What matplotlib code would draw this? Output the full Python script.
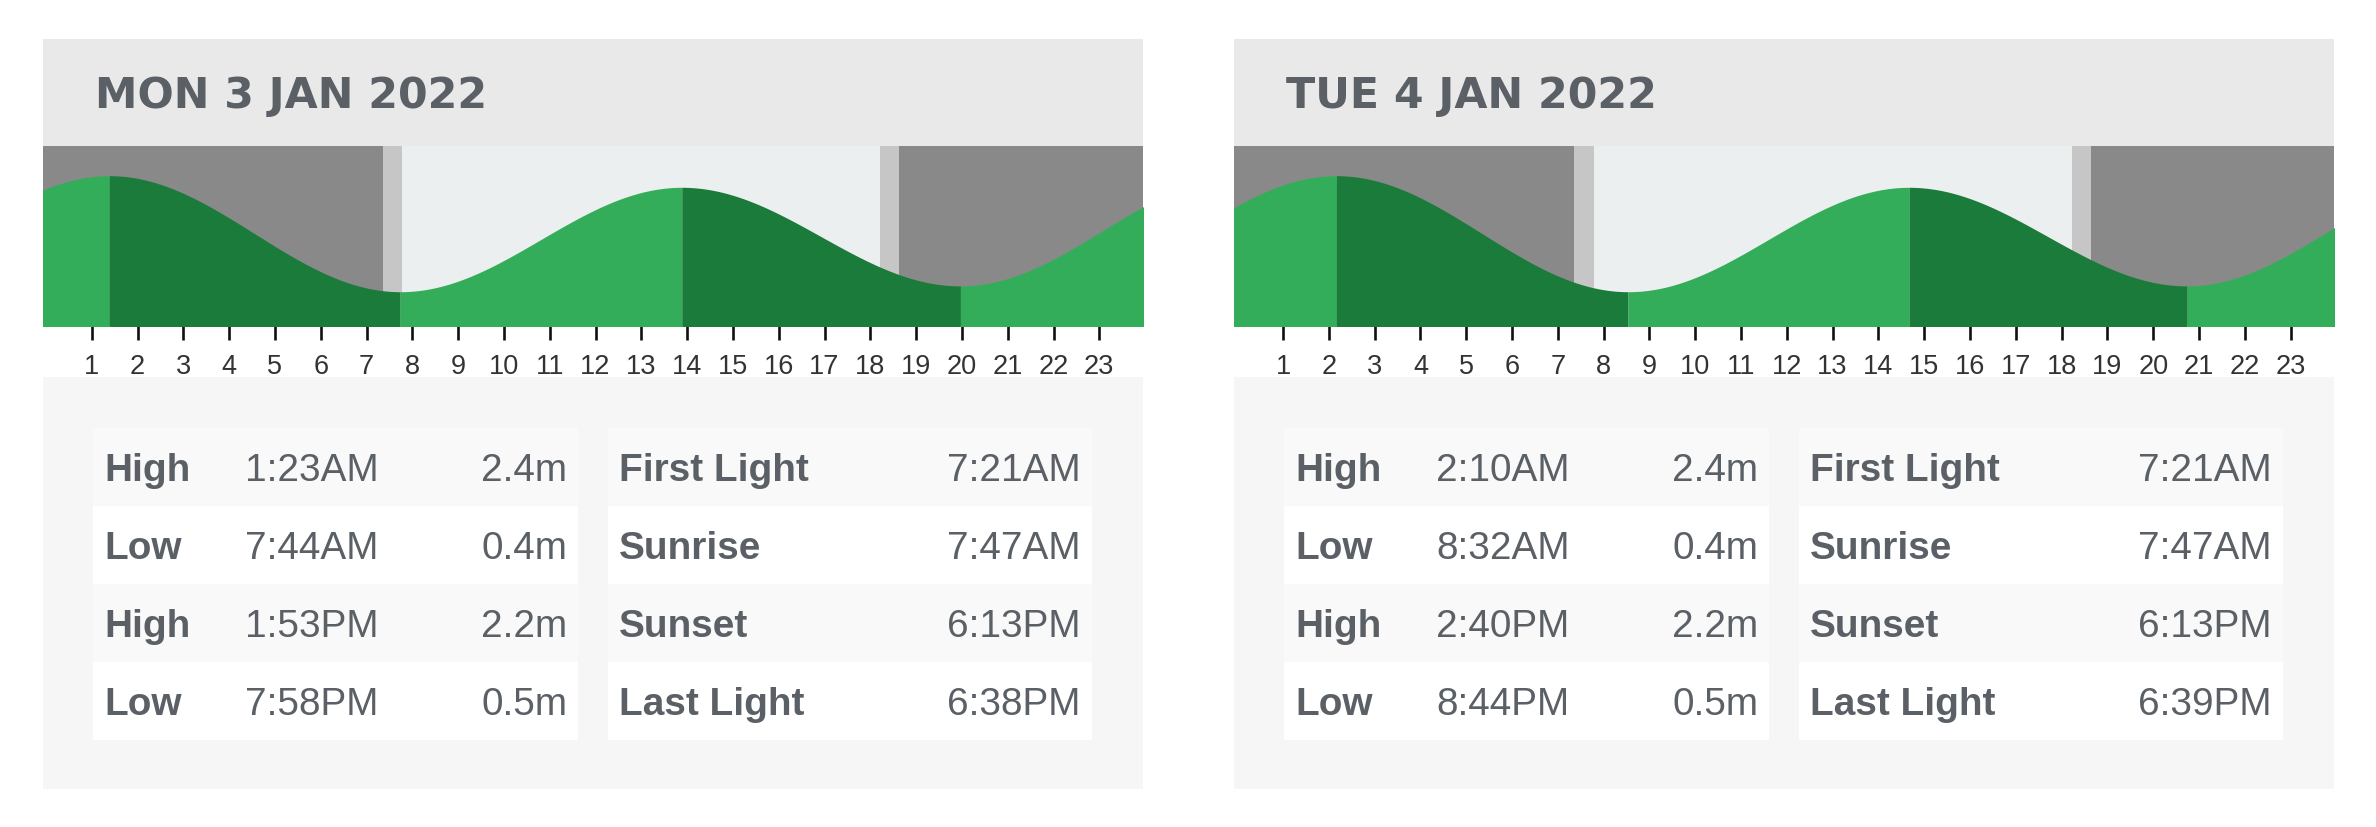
import matplotlib
matplotlib.use("Agg")
import matplotlib.pyplot as plt
import numpy as np
from matplotlib import font_manager
from matplotlib.patches import Rectangle

# ---------------- data ----------------
day_titles = ["MON 3 JAN 2022", "TUE 4 JAN 2022"]

tide_types = ["High", "Low", "High", "Low"]
tide_times_mon = ["1:23AM", "7:44AM", "1:53PM", "7:58PM"]
tide_levels_mon = [2.4, 0.4, 2.2, 0.5]
tide_times_tue = ["2:10AM", "8:32AM", "2:40PM", "8:44PM"]
tide_levels_tue = [2.4, 0.4, 2.2, 0.5]

# neighbouring-day extremes that shape the curve at the panel edges (hours rel. to midnight)
prev_low_mon = (-4.8, 0.5)
next_high_mon = (26.17, 2.4)
prev_low_tue = (-4.03, 0.5)
next_high_tue = (26.95, 2.4)

light_names = ["First Light", "Sunrise", "Sunset", "Last Light"]
light_times_mon = ["7:21AM", "7:47AM", "6:13PM", "6:38PM"]
light_times_tue = ["7:21AM", "7:47AM", "6:13PM", "6:39PM"]

hour_ticks = list(range(1, 24))

# ---------------- style ----------------
W, H, DPI = 2376, 828, 100
C_HEADER = "#e9e9e9"
C_TABLEBG = "#f6f6f6"
C_ROWGRAY = "#f9f9f9"
C_TEXT = "#5a6066"
C_NIGHT = "#898989"
C_TWI = "#c6c6c6"
C_DAY = "#eceff0"
C_RISE = "#34ad5a"
C_FALL = "#1b7b3a"


def have_font(name):
    try:
        font_manager.findfont(name, fallback_to_default=False)
        return True
    except Exception:
        return False


NARROW = "Liberation Sans Narrow" if have_font("Liberation Sans Narrow") else "Liberation Sans"
TICK_SIZE = 21 if NARROW == "Liberation Sans Narrow" else 19.5


def to_hours(s):
    t, ampm = s[:-2], s[-2:]
    hh, mm = t.split(":")
    hh = int(hh) % 12
    if ampm == "PM":
        hh += 12
    return hh + int(mm) / 60.0


fig = plt.figure(figsize=(W / DPI, H / DPI), dpi=DPI)
fig.patch.set_facecolor("white")
bg = fig.add_axes([0, 0, 1, 1], zorder=0)
bg.set_xlim(0, W)
bg.set_ylim(H, 0)
bg.axis("off")

panel_lefts = [42.7, 1234.0]
PANEL_W = 1100.0
HEAD_TOP, CHART_TOP, CHART_BOT = 40.0, 146.7, 326.7
TABLE_TOP, TABLE_BOT = 377.7, 790.0
ROW_TOP, ROW_H = 429.3, 77.85

datasets = [
    (day_titles[0], tide_times_mon, tide_levels_mon, prev_low_mon, next_high_mon, light_times_mon),
    (day_titles[1], tide_times_tue, tide_levels_tue, prev_low_tue, next_high_tue, light_times_tue),
]

for pl, (title, ttimes, tlevels, prev_ext, next_ext, ltimes) in zip(panel_lefts, datasets):
    # header band and table background
    bg.add_patch(Rectangle((pl, HEAD_TOP), PANEL_W, CHART_TOP - HEAD_TOP, color=C_HEADER, lw=0))
    bg.add_patch(Rectangle((pl, TABLE_TOP), PANEL_W, TABLE_BOT - TABLE_TOP, color=C_TABLEBG, lw=0))
    bg.text(pl + 52.5, 107.7, title, fontsize=30.8, fontweight="bold", family="DejaVu Sans",
            color=C_TEXT, va="baseline", ha="left")

    # tables
    tl0, tl1 = pl + 50.0, pl + 535.3
    tr0, tr1 = pl + 565.3, pl + 1049.0
    for i in range(4):
        y0 = ROW_TOP + i * ROW_H
        rc = C_ROWGRAY if i % 2 == 0 else "white"
        bg.add_patch(Rectangle((tl0, y0), tl1 - tl0, ROW_H, color=rc, lw=0))
        bg.add_patch(Rectangle((tr0, y0), tr1 - tr0, ROW_H, color=rc, lw=0))
        yb = y0 + 51.7
        kw = dict(fontsize=27.9, family="Liberation Sans", color=C_TEXT, va="baseline")
        bg.text(pl + 61.6, yb, tide_types[i], fontweight="bold", ha="left", **kw)
        bg.text(pl + 202.3, yb, ttimes[i], ha="left", **kw)
        bg.text(pl + 524.5, yb, f"{tlevels[i]:.1f}m", ha="right", **kw)
        bg.text(pl + 576.3, yb, light_names[i], fontweight="bold", ha="left", **kw)
        bg.text(pl + 1038.0, yb, ltimes[i], ha="right", **kw)

    # tide chart
    ax = fig.add_axes([pl / W, 1 - CHART_BOT / H, PANEL_W / W, (CHART_BOT - CHART_TOP) / H], zorder=2)
    x0_off, px_per_h = 3.2, 45.8
    xmin, xmax = -x0_off / px_per_h, (PANEL_W - x0_off) / px_per_h
    ax.set_xlim(xmin, xmax)
    ax.set_ylim(-0.186, 2.917)

    lh = [to_hours(s) for s in ltimes]
    ax.axvspan(xmin, lh[0], color=C_NIGHT, lw=0)
    ax.axvspan(lh[0], lh[1], color=C_TWI, lw=0)
    ax.axvspan(lh[1], lh[2], color=C_DAY, lw=0)
    ax.axvspan(lh[2], lh[3], color=C_TWI, lw=0)
    ax.axvspan(lh[3], xmax, color=C_NIGHT, lw=0)

    ext_t = [prev_ext[0]] + [to_hours(s) for s in ttimes] + [next_ext[0]]
    ext_h = [prev_ext[1]] + list(tlevels) + [next_ext[1]]
    for k in range(len(ext_t) - 1):
        ta, tb = ext_t[k], ext_t[k + 1]
        ha_, hb_ = ext_h[k], ext_h[k + 1]
        t = np.linspace(ta, tb, 300)
        f = (t - ta) / (tb - ta)
        h = ha_ + (hb_ - ha_) * (1 - np.cos(np.pi * f)) / 2
        col = C_RISE if hb_ > ha_ else C_FALL
        ax.fill_between(t, -1, h, color=col, lw=0, zorder=3)

    for s in ax.spines.values():
        s.set_visible(False)
    ax.set_yticks([])
    ax.set_xticks(hour_ticks)
    ax.set_xticklabels([str(v) for v in hour_ticks], family=NARROW, fontsize=TICK_SIZE, color="#333333")
    ax.tick_params(axis="x", length=10, width=1.9, color="#111111", pad=9.5, direction="out")

fig.savefig("out.png", dpi=DPI, facecolor="white")
